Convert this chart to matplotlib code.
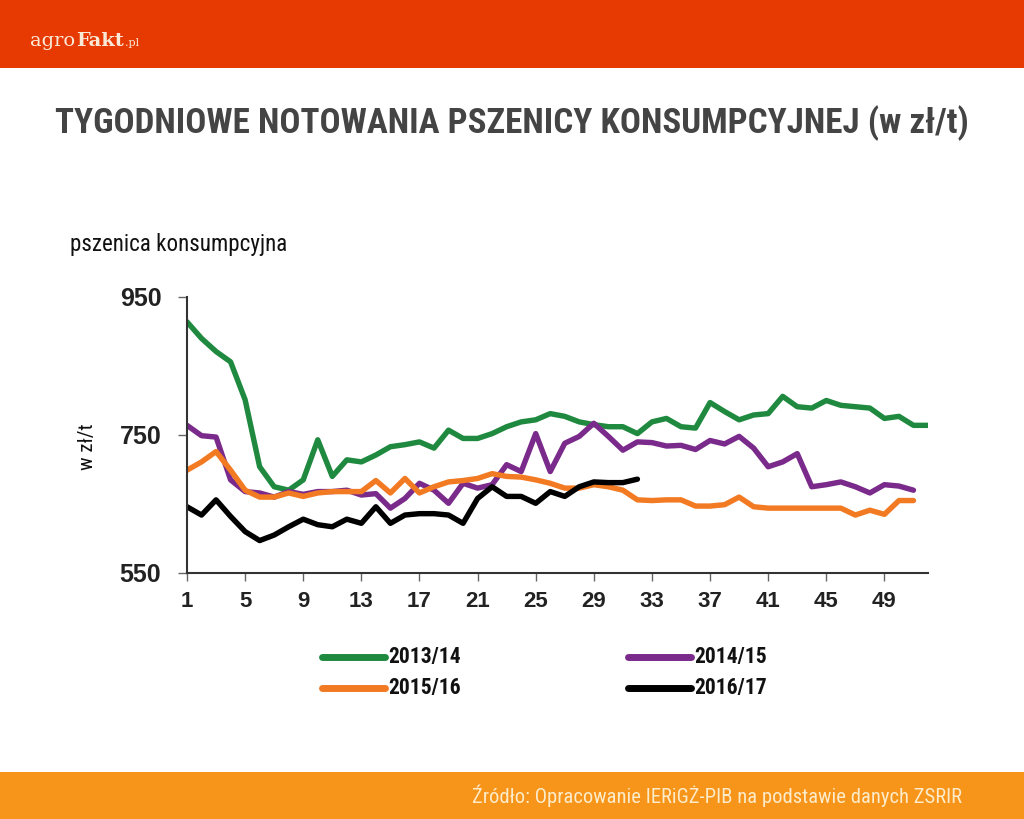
import numpy as np
import matplotlib
matplotlib.use('Agg')
import matplotlib.pyplot as plt
from matplotlib.patches import Rectangle
from matplotlib.lines import Line2D

# ----------------------------------------------------------------------------------------------------
# Dane (zł/t, tygodnie sezonu)
# ----------------------------------------------------------------------------------------------------
weeks = list(range(1, 53))

s_2013 = [914, 890, 871, 856, 801, 704, 675, 670, 685, 743, 690, 714, 711, 721, 733, 736,
          740, 731, 757, 745, 745, 752, 762, 769, 772, 781, 777, 769, 765, 762, 762, 752,
          769, 774, 762, 760, 797, 784, 772, 779, 781, 806, 791, 789, 800, 793, 791, 789,
          774, 777, 764, 764]
s_2014 = [764, 749, 747, 685, 668, 666, 660, 668, 664, 668, 668, 670, 663, 665, 644, 658,
          680, 670, 651, 680, 673, 678, 707, 697, 752, 697, 738, 748, 767, 748, 728, 740,
          739, 734, 735, 729, 742, 737, 748, 731, 704, 711, 723, 675, 678, 682, 675, 666,
          678, 676, 670]
s_2015 = [699, 711, 726, 699, 670, 660, 660, 666, 661, 666, 668, 668, 668, 684, 666, 687,
          666, 675, 682, 684, 687, 694, 690, 689, 685, 680, 673, 673, 678, 675, 670, 656,
          655, 656, 656, 647, 647, 649, 660, 646, 644, 644, 644, 644, 644, 644, 634, 641,
          635, 655, 655]
s_2016 = [646, 634, 656, 632, 610, 597, 605, 617, 628, 620, 617, 628, 622, 646, 622, 634,
          636, 636, 634, 622, 658, 675, 661, 661, 651, 668, 661, 675, 682, 681, 681, 686]

series = [('2013/14', s_2013, '#1f8a3f'),
          ('2014/15', s_2014, '#7a2a8a'),
          ('2015/16', s_2015, '#f27a22'),
          ('2016/17', s_2016, '#000000')]

y_ticks = [550, 750, 950]
x_ticks = list(range(1, 53, 4))

TITLE = 'TYGODNIOWE NOTOWANIA PSZENICY KONSUMPCYJNEJ (w zł/t)'
SUBTITLE = 'pszenica konsumpcyjna'
SOURCE = 'Źródło: Opracowanie IERiGŻ-PIB na podstawie danych ZSRIR'

COND = dict(family=['Roboto Condensed', 'Open Sans Condensed', 'DejaVu Sans'],
            fontstretch='condensed')

W, H = 1024, 819


def px(x, y):
    # piksele (od lewego górnego rogu) -> współrzędne figury
    return x / W, 1 - y / H


def fit_width(fig, txt, width_px):
    # dopasowanie rozmiaru czcionki do szerokości z oryginału
    fig.canvas.draw()
    w = txt.get_window_extent().width
    txt.set_fontsize(txt.get_fontsize() * width_px / w)


# ----------------------------------------------------------------------------------------------------
# Rysowanie
# ----------------------------------------------------------------------------------------------------
fig = plt.figure(figsize=(W / 100, H / 100), dpi=100)
fig.patch.set_facecolor('white')

# pasek górny i dolny
fig.patches.append(Rectangle(px(0, 68), 1, 68 / H, transform=fig.transFigure,
                             facecolor='#e63a02', edgecolor='none', zorder=0))
fig.patches.append(Rectangle(px(0, H), 1, 47 / H, transform=fig.transFigure,
                             facecolor='#f69519', edgecolor='none', zorder=0))

# logo
t1 = fig.text(*px(30, 46), 'agro', color='#fbe9d8', fontsize=14,
              family='DejaVu Serif', va='baseline', ha='left')
fig.canvas.draw()
bb = t1.get_window_extent()
t2 = fig.text((bb.x1 + 1) / W, 1 - 46 / H, 'Fakt', color='#fbe9d8', fontsize=14,
              fontweight='bold', family='DejaVu Serif', va='baseline', ha='left')
fig.canvas.draw()
bb2 = t2.get_window_extent()
fig.text((bb2.x1 + 1) / W, 1 - 46 / H, '.pl', color='#fbe9d8', fontsize=8,
         family='DejaVu Serif', va='baseline', ha='left')

# tytuł
title = fig.text(*px(512, 123), TITLE, color='#444444', fontsize=24, fontweight='bold',
                 ha='center', va='center', **COND)
fit_width(fig, title, 915)

sub = fig.text(*px(70, 244), SUBTITLE, color='#111111', fontsize=14,
               ha='left', va='center', **COND)
fit_width(fig, sub, 218)

# źródło
src = fig.text(*px(962, 796), SOURCE, color='#fdebc9', fontsize=13,
               ha='right', va='center', **COND)
fit_width(fig, src, 487)

# wykres
ax = fig.add_axes([187 / W, 1 - 573 / H, (928 - 187) / W, (573 - 297) / H])
for name, vals, col in series:
    ax.plot(weeks[:len(vals)], vals, color=col, linewidth=3.9, solid_capstyle='round',
            solid_joinstyle='round', label=name)

ax.set_xlim(1, 52)
ax.set_ylim(550, 950)
ax.set_yticks(y_ticks)
ax.set_xticks(x_ticks)
ax.tick_params(axis='both', direction='out', color='#666666', width=1)
ax.tick_params(axis='y', labelsize=18, pad=12, length=6.5)
ax.tick_params(axis='x', labelsize=16, pad=7, length=6)
for lab in ax.get_xticklabels() + ax.get_yticklabels():
    lab.set_fontweight('bold')
    lab.set_family('Liberation Sans')
    lab.set_color('#222222')
for sp in ['top', 'right']:
    ax.spines[sp].set_visible(False)
for sp in ['left', 'bottom']:
    ax.spines[sp].set_color('#333333')
    ax.spines[sp].set_linewidth(1.5)

fig.text(*px(87, 447), 'w zł/t', fontsize=15, rotation=90, ha='center', va='center',
         color='#111111', **COND)

# legenda (ręcznie, wierszami)
leg_pos = [(322, 657), (628, 657), (322, 688), (628, 688)]
for (name, _, col), (lx, ly) in zip(series, leg_pos):
    fig.add_artist(Line2D([lx / W, (lx + 63) / W], [1 - ly / H, 1 - ly / H], color=col,
                          linewidth=5, solid_capstyle='round', transform=fig.transFigure))
    fig.text((lx + 66) / W, 1 - ly / H, name, fontsize=15.5, fontweight='bold',
             color='#111111', ha='left', va='center', **COND)

plt.savefig('out.png', dpi=100)
plt.close(fig)
